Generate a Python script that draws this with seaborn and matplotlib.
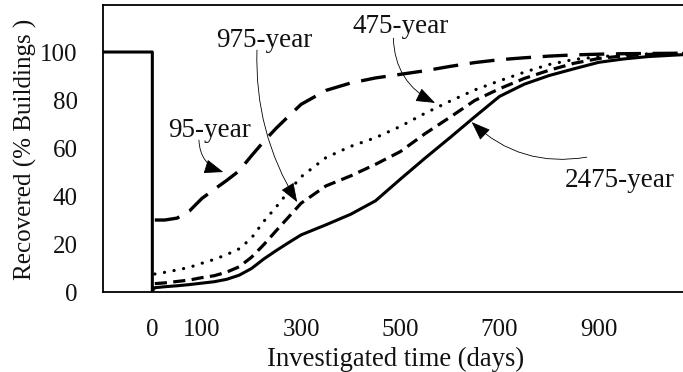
import matplotlib
matplotlib.use("Agg")
import matplotlib.pyplot as plt
import numpy as np
import pandas as pd
import seaborn as sns

# ---------------- data ----------------
days = [5, 25, 50, 75, 100, 125, 150, 175, 200, 225, 250, 275, 300, 350, 400,
        450, 500, 550, 600, 650, 700, 750, 800, 850, 900, 950, 1000, 1070]
rec_95 = [30, 30, 30.8, 33.8, 39, 42.8, 46.5, 50.5, 56.8, 62.8, 68.3, 73.3,
          78.2, 84, 87.1, 89.2, 90.7, 92.2, 94, 95.6, 96.8, 97.6, 98.3, 98.8,
          99.1, 99.3, 99.4, 99.5]
rec_475 = [7.5, 8.2, 9.2, 10.3, 12, 13.6, 15.6, 18, 22.5, 29.5, 35.5, 42,
           48, 56, 60.7, 64.3, 69, 74.5, 79.5, 84.2, 88, 91.6, 94.8, 96.9,
           98, 98.8, 99.2, 99.5]
rec_975 = [3.5, 3.8, 4.4, 5, 6, 6.8, 8.3, 10.5, 14.5, 19.8, 25.6, 31.3,
           37, 44.2, 48.4, 53.2, 58.5, 66, 72.8, 79.8, 84.7, 89, 92.4, 95.3,
           97.3, 98.4, 99, 99.4]
rec_2475 = [1.8, 2.2, 2.6, 3.1, 3.7, 4.3, 5.3, 7, 9.8, 13.8, 17.3, 20.6,
            23.8, 28, 32.4, 38, 47, 55.8, 64.3, 73, 81.5, 86.6, 90.2, 93,
            95.7, 97.1, 98.1, 98.9]
step_days = [-100, 0, 0]
step_rec = [100, 100, 0.5]

scenarios = ["95-year", "475-year", "975-year", "2475-year"]
x_ticks = [0, 100, 300, 500, 700, 900]
y_ticks = [0, 20, 40, 60, 80, 100]

# annotation: label position (x, y) and arrow start / tip
label_pos = {"95-year": (115, 64.6), "975-year": (225, 102.2),
             "475-year": (501, 107.8), "2475-year": (943, 43.9)}
arrow_start = {"95-year": (94, 63.3), "975-year": (211, 100.8),
               "475-year": (486, 105.8), "2475-year": (876, 56.2)}
arrow_tip = {"95-year": (143, 50), "975-year": (292, 37.5),
             "475-year": (570, 78.8), "2475-year": (644, 70.8)}
arrow_rad = {"95-year": 0.35, "975-year": 0.15,
             "475-year": 0.3, "2475-year": -0.25}

# ---------------- build long table ----------------
frames = []
series_vals = {"95-year": (days, rec_95), "475-year": (days, rec_475),
               "975-year": (days, rec_975),
               "2475-year": (step_days + days, step_rec + rec_2475)}
for name in scenarios:
    xs, ys = series_vals[name]
    frames.append(pd.DataFrame({"days": xs, "rec": ys, "scenario": name}))
df = pd.concat(frames, ignore_index=True)

# ---------------- style ----------------
sns.set_theme(style="white")
plt.rcParams["font.family"] = ["Liberation Serif", "DejaVu Serif"]

fig = plt.figure(figsize=(6.83, 3.72), dpi=100)
ax = fig.add_axes([0.1504, 0.215, 0.8496, 0.7716])

dash_map = {"95-year": (7.5, 3.5), "475-year": (0.05, 3.0),
            "975-year": (3.8, 2.0), "2475-year": None}
lw_map = {"95-year": 2.4, "475-year": 2.3, "975-year": 2.3, "2475-year": 2.2}

for name in scenarios:
    sub = df[df["scenario"] == name]
    sns.lineplot(data=sub, x="days", y="rec", sort=False, estimator=None,
                 color="black", linewidth=lw_map[name], ax=ax, legend=False)
    line = ax.lines[-1]
    if dash_map[name] is not None:
        line.set_dashes(dash_map[name])
    if name == "475-year":
        line.set_dash_capstyle("round")
    else:
        line.set_dash_capstyle("butt")
    line.set_solid_joinstyle("round")
    line.set_dash_joinstyle("round")

for name in scenarios:
    ax.text(*label_pos[name], name, ha="center", va="baseline",
            fontsize=19.5, color="#111111")
    ax.annotate("", xy=arrow_tip[name], xytext=arrow_start[name],
                arrowprops=dict(arrowstyle="-|>,head_length=0.8,head_width=0.3",
                                connectionstyle=f"arc3,rad={arrow_rad[name]}",
                                color="black", lw=0.6, mutation_scale=15,
                                shrinkA=0, shrinkB=0))

ax.set_xlim(-100, 1070)
ax.set_ylim(0, 119.6)
ax.set_xticks(x_ticks)
ax.set_xticklabels([str(t) for t in x_ticks])
ax.set_yticks(y_ticks)
ax.set_yticklabels([str(t) for t in y_ticks])
ax.tick_params(axis="both", length=0, labelsize=18, colors="#111111")
ax.tick_params(axis="x", pad=19.5)
ax.tick_params(axis="y", pad=18)

ax.set_xlabel("Investigated time (days)", fontsize=19.2, color="#111111")
ax.set_ylabel("Recovered (% Buildings )", fontsize=18, color="#111111")
ax.xaxis.set_label_coords(0.504, -0.192)
ax.yaxis.set_label_coords(-0.113, 0.497)

for side in ["top", "left", "bottom"]:
    ax.spines[side].set_visible(True)
    ax.spines[side].set_color("black")
    ax.spines[side].set_linewidth(1.3)
ax.spines["right"].set_visible(False)
ax.grid(False)

fig.savefig("out.png", dpi=100)
